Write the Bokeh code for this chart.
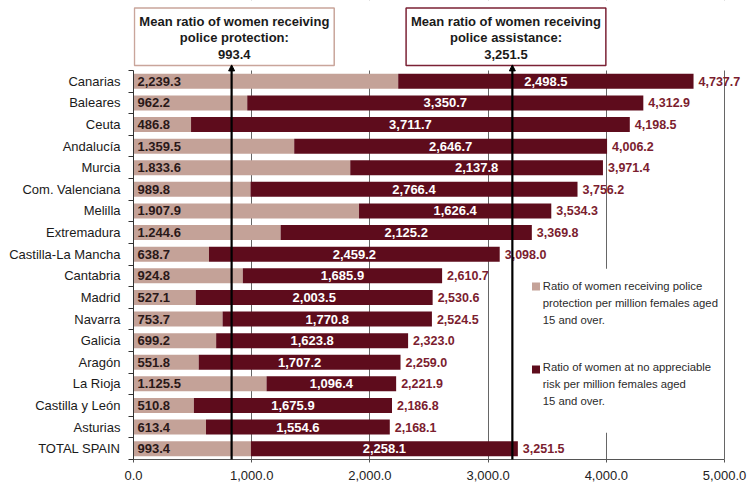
from bokeh.plotting import figure
from bokeh.models import (Range1d, FixedTicker, NumeralTickFormatter, Arrow,
                          NormalHead, ColumnDataSource)
from bokeh.core.properties import value
from bokeh.embed import file_html
from bokeh.resources import INLINE

# ---------------- data ----------------
regions = ["Canarias", "Baleares", "Ceuta", "Andalucía", "Murcia", "Com. Valenciana",
           "Melilla", "Extremadura", "Castilla-La Mancha", "Cantabria", "Madrid",
           "Navarra", "Galicia", "Aragón", "La Rioja", "Castilla y León", "Asturias",
           "TOTAL SPAIN"]
protection = [2239.3, 962.2, 486.8, 1359.5, 1833.6, 989.8, 1907.9, 1244.6, 638.7,
              924.8, 527.1, 753.7, 699.2, 551.8, 1125.5, 510.8, 613.4, 993.4]
protection_labels = ["2,239.3", "962.2", "486.8", "1.359.5", "1.833.6", "989.8",
                     "1.907.9", "1.244.6", "638.7", "924.8", "527.1", "753.7",
                     "699.2", "551.8", "1.125.5", "510.8", "613.4", "993.4"]
no_risk = [2498.5, 3350.7, 3711.7, 2646.7, 2137.8, 2766.4, 1626.4, 2125.2, 2459.2,
           1685.9, 2003.5, 1770.8, 1623.8, 1707.2, 1096.4, 1675.9, 1554.6, 2258.1]
totals = [4737.7, 4312.9, 4198.5, 4006.2, 3971.4, 3756.2, 3534.3, 3369.8, 3098.0,
          2610.7, 2530.6, 2524.5, 2323.0, 2259.0, 2221.9, 2186.8, 2168.1, 3251.5]
x_ticks = [0, 1000, 2000, 3000, 4000, 5000]

mean_protection = 993.4
mean_assistance = 3251.5
# where the two mean markers are drawn in the picture (x values)
marker_x = [830, 3205]

legend_labels = ["Ratio of women receiving police\nprotection per million females aged\n15 and over.",
                 "Ratio of women at no appreciable\nrisk per million females aged\n15 and over."]

# ---------------- style ----------------
LIGHT = "#c4a298"
DARK = "#5e0c1c"
TOTAL_C = "#7b1d2f"
FONT = "Liberation Sans"

n = len(regions)
idx = list(range(n))
TOP = -3.74          # y value at the top edge of the drawing area (room for the boxes)
X_END = 5135         # a little room right of 5000 for the last total label

p = figure(width=748, height=486, output_backend="svg", toolbar_location=None,
           x_range=Range1d(0, X_END), y_range=Range1d(n - 0.5, TOP),
           min_border_left=133, min_border_right=8, min_border_top=0,
           min_border_bottom=27)
p.outline_line_color = None
p.background_fill_color = "white"
p.border_fill_color = "white"

src = ColumnDataSource(dict(
    y=idx, prot=protection, norisk=no_risk, total=totals,
    mid=[(a + b) / 2 for a, b in zip(protection, totals)],
    plab=protection_labels,
    nlab=[f"{v:,.1f}" for v in no_risk],
    tlab=[f"{v:,.1f}" for v in totals],
))

# white band above the plot rows hides the grid lines there
p.quad(left=[0], right=[X_END], top=[TOP], bottom=[-0.5], fill_color="white", line_color=None)

# bars
p.hbar(y="y", left=0, right="prot", height=0.694, fill_color=LIGHT, line_color=None, source=src)
p.hbar(y="y", left="prot", right="total", height=0.694, fill_color=DARK, line_color=None, source=src)

# bar labels
p.text(x=0, y="y", text="plab", source=src, x_offset=4, text_align="left",
       text_baseline="middle", text_font=value(FONT), text_font_style="bold",
       text_font_size="13px", text_color="#2a1818")
p.text(x="mid", y="y", text="nlab", source=src, text_align="center",
       text_baseline="middle", text_font=value(FONT), text_font_style="bold",
       text_font_size="13px", text_color="white")
p.text(x="total", y="y", text="tlab", source=src, x_offset=5, text_align="left",
       text_baseline="middle", text_font=value(FONT), text_font_style="bold",
       text_font_size="12.5px", text_color=TOTAL_C)

# legend (white backdrop hides the grid line)
p.quad(left=[3300], right=[4950], bottom=[16.26], top=[8.67], fill_color="white", line_color=None)
p.scatter(x=[3405, 3405], y=[9.50, 13.34], marker="square", size=8,
          fill_color=[LIGHT, DARK], line_color=None)
p.text(x=[3462, 3462], y=[9.20, 12.95], text=legend_labels, text_align="left",
       text_baseline="top", text_font=value(FONT), text_font_size="11.3px",
       text_color="#2b2b2b", text_line_height=1.4)

# axes
p.xaxis.bounds = (0, 5000)
p.xaxis.ticker = FixedTicker(ticks=x_ticks)
p.xaxis.formatter = NumeralTickFormatter(format="0,0.0")
p.xaxis.major_label_text_font = FONT
p.xaxis.major_label_text_font_size = "13px"
p.xaxis.major_label_text_color = "#222222"
p.xaxis.axis_line_color = "#555555"
p.xaxis.major_tick_line_color = "#555555"
p.xaxis.major_tick_out = 3
p.xaxis.major_tick_in = 0
p.xaxis.minor_tick_line_color = None
p.xaxis.major_label_standoff = 8

p.yaxis.bounds = (-0.5, n - 0.5)
p.yaxis.ticker = FixedTicker(ticks=idx, minor_ticks=[i - 0.5 for i in range(n + 1)])
p.yaxis.major_label_overrides = {i: r for i, r in enumerate(regions)}
p.yaxis.major_label_text_font = FONT
p.yaxis.major_label_text_font_size = "13px"
p.yaxis.major_label_text_color = "#1a1a1a"
p.yaxis.axis_line_color = "#333333"
p.yaxis.major_tick_line_color = None
p.yaxis.minor_tick_line_color = "#333333"
p.yaxis.minor_tick_out = 5
p.yaxis.minor_tick_in = 0
p.yaxis.major_label_standoff = 7

p.xgrid.ticker = FixedTicker(ticks=x_ticks[1:])
p.xgrid.grid_line_color = "#666666"
p.ygrid.grid_line_color = None

# mean markers: boxes + arrows
box_texts = [f"Mean ratio of women receiving\npolice protection:\n{mean_protection:,.1f}",
             f"Mean ratio of women receiving\npolice assistance:\n{mean_assistance:,.1f}"]
box_borders = ["#c9a59b", "#7b2235"]
box_shift = [23, -54]
box_cx = [m + s for m, s in zip(marker_x, box_shift)]
p.rect(x=box_cx, y=[-2.063, -2.063], width=1690, height=2.662, fill_color="white",
       line_color=box_borders, line_width=1.5)
p.text(x=box_cx, y=[-2.005, -2.005], text=box_texts, text_align="center",
       text_baseline="middle", text_font=value(FONT), text_font_style="bold",
       text_font_size="13px", text_color="#1a1a1a", text_line_height=1.12)
for mx in marker_x:
    p.add_layout(Arrow(end=NormalHead(size=6, fill_color="black", line_color="black", line_width=1),
                       x_start=mx, y_start=18.02, x_end=mx, y_end=-0.76,
                       line_color="black", line_width=2.2))

open("out.html", "w").write(file_html(p, INLINE))
